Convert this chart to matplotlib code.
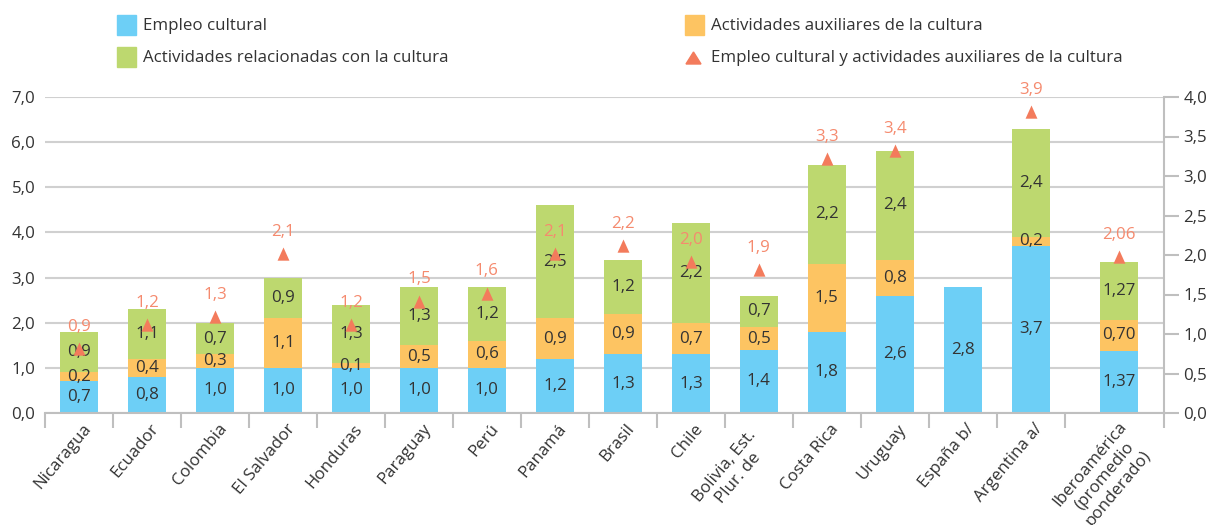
import numpy as np
import matplotlib
matplotlib.use("Agg")
import matplotlib.pyplot as plt
from matplotlib.path import Path
from matplotlib.patches import Rectangle, Polygon
from matplotlib.transforms import ScaledTranslation

plt.rcParams['font.family'] = ['Open Sans', 'DejaVu Sans']

categories = ["Nicaragua", "Ecuador", "Colombia", "El Salvador", "Honduras", "Paraguay",
              "Perú", "Panamá", "Brasil", "Chile", "Bolivia, Est.\nPlur. de", "Costa Rica",
              "Uruguay", "España b/", "Argentina a/", "Iberoamérica\n(promedio\nponderado)"]
empleo = [0.7, 0.8, 1.0, 1.0, 1.0, 1.0, 1.0, 1.2, 1.3, 1.3, 1.4, 1.8, 2.6, 2.8, 3.7, 1.37]
auxiliares = [0.2, 0.4, 0.3, 1.1, 0.1, 0.5, 0.6, 0.9, 0.9, 0.7, 0.5, 1.5, 0.8, None, 0.2, 0.70]
relacionadas = [0.9, 1.1, 0.7, 0.9, 1.3, 1.3, 1.2, 2.5, 1.2, 2.2, 0.7, 2.2, 2.4, None, 2.4, 1.27]
empleo_aux = [0.9, 1.2, 1.3, 2.1, 1.2, 1.5, 1.6, 2.1, 2.2, 2.0, 1.9, 3.3, 3.4, None, 3.9, 2.06]
decimals = [1] * 15 + [2]
left_ticks = [0, 1, 2, 3, 4, 5, 6, 7]
right_ticks = [0, 0.5, 1, 1.5, 2, 2.5, 3, 3.5, 4]

C_BLUE = "#6DCFF6"
C_ORANGE = "#FDC462"
C_GREEN = "#BDD86F"
C_TRI = "#F37B5C"
C_TRI_TXT = "#F58A6E"
C_TXT = "#333333"
C_GRID = "#D0D0D0"
C_AX = "#BFBFBF"

W, H = 1210, 525
fig = plt.figure(figsize=(W / 100, H / 100), dpi=100)
ax = fig.add_axes([45 / W, 1 - 413 / H, (1164 - 45) / W, (413 - 97) / H])

n = len(categories)
x = np.arange(n, dtype=float)
x[-1] += 0.3
bw = 0.56

def fmt(v, d):
    return f"{v:.{d}f}".replace(".", ",")

e = np.array(empleo, dtype=float)
a = np.array([np.nan if v is None else v for v in auxiliares], dtype=float)
r = np.array([np.nan if v is None else v for v in relacionadas], dtype=float)
a0 = np.nan_to_num(a)
ax.bar(x, e, bw, color=C_BLUE, zorder=3)
ax.bar(x, a0, bw, bottom=e, color=C_ORANGE, zorder=3)
ax.bar(x, np.nan_to_num(r), bw, bottom=e + a0, color=C_GREEN, zorder=3)

fs = 12.2
for i in range(n):
    d = decimals[i]
    ax.text(x[i], e[i] / 2, fmt(e[i], d), ha='center', va='center', fontsize=fs, color=C_TXT, zorder=5)
    if not np.isnan(a[i]):
        ax.text(x[i], e[i] + a[i] / 2, fmt(a[i], d), ha='center', va='center', fontsize=fs, color=C_TXT, zorder=5)
    if not np.isnan(r[i]):
        ax.text(x[i], e[i] + a[i] + r[i] / 2, fmt(r[i], d), ha='center', va='center', fontsize=fs, color=C_TXT, zorder=5)

ax.set_ylim(0, 7)
ax.set_xlim(-0.5, 15.96)
ax.set_yticks(left_ticks)
ax.set_yticklabels([fmt(v, 1) for v in left_ticks], fontsize=fs, color=C_TXT)
ax.yaxis.grid(True, color=C_GRID, linewidth=1.5, zorder=0)
ax.set_axisbelow(True)
ax.tick_params(axis='y', length=0, pad=7)
for s in ['left', 'top', 'right']:
    ax.spines[s].set_visible(False)
ax.spines['bottom'].set_color(C_AX)
ax.spines['bottom'].set_linewidth(1.5)
ax.spines['bottom'].set_zorder(4)

# category labels (rotated), placed under each bar
ax.set_xticks([])
shifts = {1: (3, -8), 2: (-12, -14), 3: (-1, -6)}
for i, cat in enumerate(categories):
    dx, dy = shifts[cat.count("\n") + 1]
    tr = ax.get_xaxis_transform() + ScaledTranslation(dx / 100, dy / 100, fig.dpi_scale_trans)
    ax.text(x[i], 0, cat, transform=tr, rotation=50, ha='right', va='top', rotation_mode='anchor',
            fontsize=fs, color=C_TXT, multialignment='center', clip_on=False)
bounds = list(np.arange(-0.5, 15, 1.0)) + [15.96]
ax.set_xticks(bounds, minor=True)
ax.tick_params(axis='x', which='minor', length=11, width=1.5, color=C_AX)

ax2 = ax.twinx()
ax2.set_ylim(0, 4)
ax2.set_yticks(right_ticks)
ax2.set_yticklabels([fmt(v, 1) for v in right_ticks], fontsize=fs, color=C_TXT)
ax2.tick_params(axis='y', length=11, width=1.5, color=C_AX, pad=3)
for s in ['left', 'top', 'bottom']:
    ax2.spines[s].set_visible(False)
ax2.spines['right'].set_color(C_AX)
ax2.spines['right'].set_linewidth(1.5)

tri = Path([(-0.45, -1.0), (0.45, -1.0), (0.0, 0.0), (-0.45, -1.0)],
           [Path.MOVETO, Path.LINETO, Path.LINETO, Path.CLOSEPOLY])
ev = np.array([np.nan if v is None else v for v in empleo_aux], dtype=float)
ax2.plot(x, ev, linestyle='none', marker=tri, markersize=19, color=C_TRI, markeredgewidth=0, zorder=6)
for i in range(n):
    if not np.isnan(ev[i]):
        ax2.annotate(fmt(ev[i], decimals[i]), (x[i], ev[i]), xytext=(0, 11), textcoords='offset points',
                     ha='center', va='center', fontsize=fs, color=C_TRI_TXT, zorder=6)

# legend
def px(xp, yp):
    return xp / W, 1 - yp / H

legend = [("Empleo cultural", C_BLUE, 117, 25, 'sq'),
          ("Actividades auxiliares de la cultura", C_ORANGE, 685, 25, 'sq'),
          ("Actividades relacionadas con la cultura", C_GREEN, 117, 57, 'sq'),
          ("Empleo cultural y actividades auxiliares de la cultura", C_TRI, 685, 57, 'tri')]
for label, col, lx, ly, kind in legend:
    if kind == 'sq':
        fig.patches.append(Rectangle(px(lx, ly + 9.5), 19 / W, 19 / H, transform=fig.transFigure,
                                     color=col, figure=fig))
    else:
        fig.patches.append(Polygon([px(lx + 1, ly + 7), px(lx + 16, ly + 7), px(lx + 8.5, ly - 5)],
                                   closed=True, transform=fig.transFigure, color=col, figure=fig))
    fig.text(*px(lx + 26, ly + 1), label, ha='left', va='center', fontsize=fs, color=C_TXT)

fig.savefig("out.png", dpi=100)
